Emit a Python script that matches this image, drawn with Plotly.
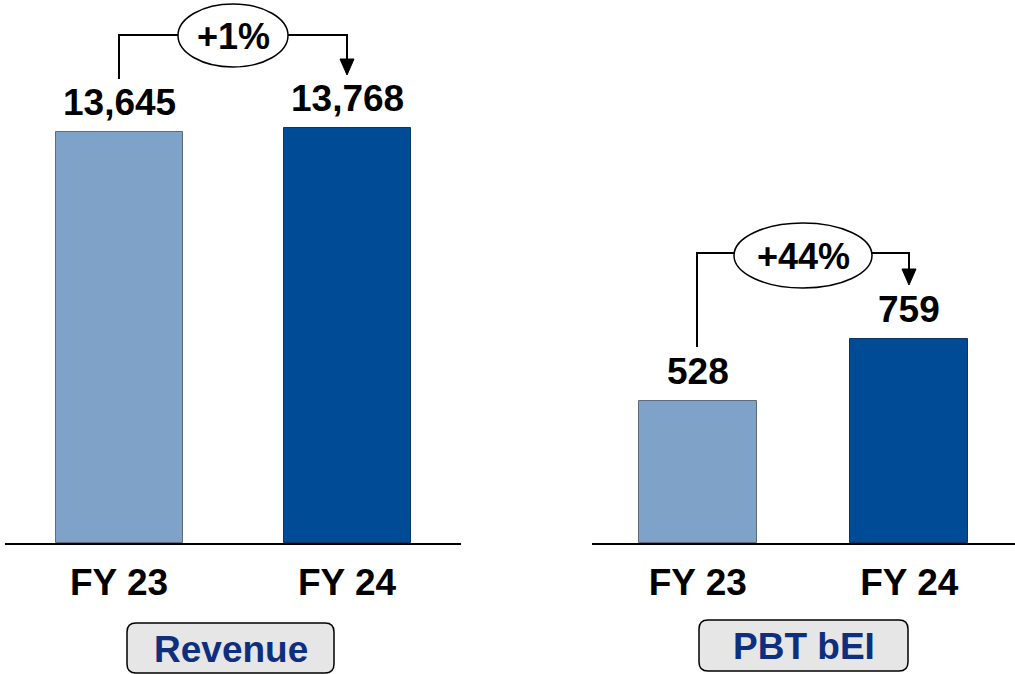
import plotly.graph_objects as go

# ---------------- data ----------------
categories = ["FY 23", "FY 24"]
revenue = [13645, 13768]
pbt_bei = [528, 759]
growth_labels = ["+1%", "+44%"]
panel_titles = ["Revenue", "PBT bEI"]
bar_colors = ["#7fa2c8", "#004b96"]
bar_line_colors = ["#5f6b78", "#0b3566"]

W, H = 1015, 674
FONT = "Liberation Sans, Arial, sans-serif"

def fx(px):
    return px / W

def fy(py):
    return 1 - py / H

fig = go.Figure()

fig.add_trace(go.Bar(
    x=categories, y=revenue, xaxis="x", yaxis="y",
    marker=dict(color=bar_colors, line=dict(color=bar_line_colors, width=1)),
    width=0.557, hoverinfo="skip", showlegend=False,
))
fig.add_trace(go.Bar(
    x=categories, y=pbt_bei, xaxis="x2", yaxis="y2",
    marker=dict(color=bar_colors, line=dict(color=bar_line_colors, width=1)),
    width=0.558, hoverinfo="skip", showlegend=False,
))

ydom = [fy(543), 1]
axis_common = dict(
    showline=True, linecolor="black", linewidth=2, ticks="",
    showgrid=False, zeroline=False, range=[-0.5, 1.5],
    tickfont=dict(family=FONT, size=37, color="black", weight="bold"),
    ticklabelstandoff=6, fixedrange=True,
)
fig.update_layout(
    width=W, height=H,
    margin=dict(l=0, r=0, t=0, b=0),
    paper_bgcolor="white", plot_bgcolor="white",
    xaxis=dict(domain=[fx(5), fx(461)], anchor="y", **axis_common),
    xaxis2=dict(domain=[fx(592), 1], anchor="y2", **axis_common),
    yaxis=dict(domain=ydom, range=[0, 18027], visible=False, fixedrange=True),
    yaxis2=dict(domain=ydom, range=[0, 2019], visible=False, fixedrange=True),
    showlegend=False,
    bargap=0,
)

annotations = []
# value labels
for xr, yr, vals in (("x", "y", revenue), ("x2", "y2", pbt_bei)):
    for c, v in zip(categories, vals):
        annotations.append(dict(
            x=c, y=v, xref=xr, yref=yr, text=f"{v:,}", showarrow=False,
            yanchor="bottom", yshift=7,
            font=dict(family=FONT, size=37, color="black", weight="bold"),
        ))

shapes = []
# growth brackets (pixel layout of the decorations)
brackets = [
    dict(x0=119, ystart=79, ytop=35, x1=347, tip=75, ell=(178, 4, 288, 67)),
    dict(x0=697, ystart=347, ytop=253, x1=909, tip=285, ell=(734, 223, 872, 288)),
]
for b, g in zip(brackets, growth_labels):
    head_base = b["tip"] - 16
    path = (f"M {fx(b['x0'])},{fy(b['ystart'])} L {fx(b['x0'])},{fy(b['ytop'])} "
            f"L {fx(b['x1'])},{fy(b['ytop'])} L {fx(b['x1'])},{fy(head_base)}")
    shapes.append(dict(type="path", path=path, xref="paper", yref="paper",
                       line=dict(color="black", width=2)))
    tri = (f"M {fx(b['x1'] - 7)},{fy(head_base)} L {fx(b['x1'] + 7)},{fy(head_base)} "
           f"L {fx(b['x1'])},{fy(b['tip'])} Z")
    shapes.append(dict(type="path", path=tri, xref="paper", yref="paper",
                       fillcolor="black", line=dict(color="black", width=1)))
    ex0, ey0, ex1, ey1 = b["ell"]
    shapes.append(dict(type="circle", xref="paper", yref="paper",
                       x0=fx(ex0), x1=fx(ex1), y0=fy(ey1), y1=fy(ey0),
                       fillcolor="white", line=dict(color="black", width=1.5)))
    annotations.append(dict(
        x=fx((ex0 + ex1) / 2), y=fy((ey0 + ey1) / 2 + 1), xref="paper", yref="paper",
        text=g, showarrow=False, xanchor="center", yanchor="middle",
        font=dict(family=FONT, size=36, color="black", weight="bold"),
    ))

# panel title boxes (rounded)
boxes = [(127, 623, 334, 673), (699, 620, 908, 671)]
r = 9
for (x0, y0, x1, y1), t in zip(boxes, panel_titles):
    p = (f"M {fx(x0 + r)},{fy(y0)} L {fx(x1 - r)},{fy(y0)} Q {fx(x1)},{fy(y0)} {fx(x1)},{fy(y0 + r)} "
         f"L {fx(x1)},{fy(y1 - r)} Q {fx(x1)},{fy(y1)} {fx(x1 - r)},{fy(y1)} "
         f"L {fx(x0 + r)},{fy(y1)} Q {fx(x0)},{fy(y1)} {fx(x0)},{fy(y1 - r)} "
         f"L {fx(x0)},{fy(y0 + r)} Q {fx(x0)},{fy(y0)} {fx(x0 + r)},{fy(y0)} Z")
    shapes.append(dict(type="path", path=p, xref="paper", yref="paper",
                       fillcolor="#e6e6e6", line=dict(color="black", width=1.5)))
    annotations.append(dict(
        x=fx((x0 + x1) / 2), y=fy((y0 + y1) / 2 + 1), xref="paper", yref="paper",
        text=t, showarrow=False, xanchor="center", yanchor="middle",
        font=dict(family=FONT, size=37, color="#0d2f7e", weight="bold"),
    ))

fig.update_layout(shapes=shapes, annotations=annotations)
fig.write_html("out.html")
